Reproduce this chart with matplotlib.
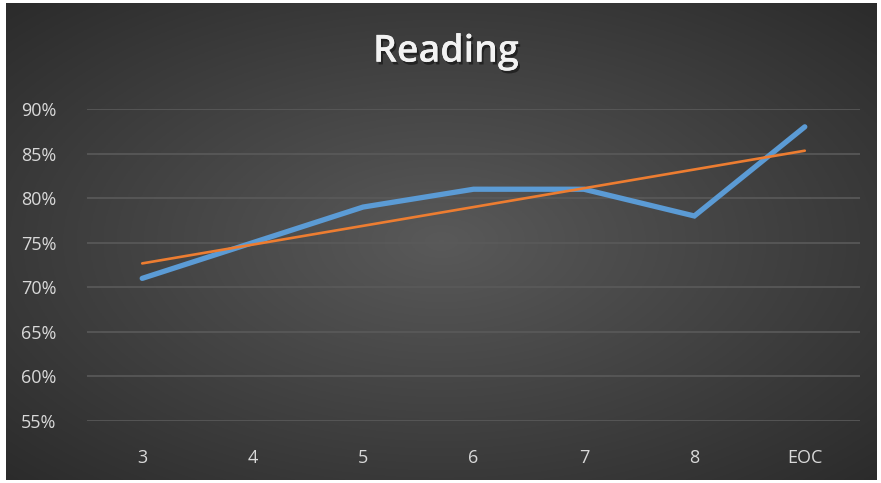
import numpy as np
import matplotlib.pyplot as plt
import matplotlib.patheffects as pe

grades = ['3', '4', '5', '6', '7', '8', 'EOC']
reading = [71, 75, 79, 81, 81, 78, 88]
yticks = [55, 60, 65, 70, 75, 80, 85, 90]

plt.rcParams['font.family'] = ['Open Sans', 'DejaVu Sans']

fig = plt.figure(figsize=(8.81, 4.83), dpi=100)
fig.patch.set_facecolor('white')

# dark radial gradient panel
bg = fig.add_axes([6/881, 3/483, 870/881, 477/483])
gx, gy = np.meshgrid(np.linspace(-1, 1, 400), np.linspace(-1, 1, 300))
r = np.sqrt(gx**2 + gy**2) / np.sqrt(2)
shade = 0.35 - 0.18 * r
bg.imshow(np.dstack([shade, shade, shade]), aspect='auto', extent=[0, 1, 0, 1])
bg.axis('off')

ax = fig.add_axes([87/881, 1 - 421/483, 773/881, 312/483])
ax.patch.set_alpha(0)
x = np.arange(len(grades))

ax.set_xlim(-0.5, len(grades) - 0.5)
ax.set_ylim(55, 90)
ax.set_yticks(yticks)
ax.set_yticklabels([f'{v}%' for v in yticks])
ax.set_xticks(x)
ax.set_xticklabels(grades)
ax.grid(axis='y', color='#5a5a5a', linewidth=1.2)
ax.set_axisbelow(True)
for s in ax.spines.values():
    s.set_visible(False)
ax.tick_params(length=0, colors='#d9d9d9', labelsize=13)
ax.tick_params(axis='x', pad=20)
ax.tick_params(axis='y', pad=22)

# trendline
k, b = np.polyfit(x, reading, 1)
ax.plot(x, reading, color='#5b9bd5', linewidth=3.8, solid_capstyle='round',
        solid_joinstyle='miter', zorder=3)
ax.plot(x, k * x + b, color='#ed7d31', linewidth=1.9, solid_capstyle='round', zorder=4)

fig.text(0.506, 0.893, 'Reading', ha='center', va='center', fontsize=27,
         fontweight='semibold', color='#f2f2f2',
         path_effects=[pe.withSimplePatchShadow(offset=(1.5, -2), shadow_rgbFace='black', alpha=0.45),
                       pe.Normal()])

fig.savefig('out.png', dpi=100)
